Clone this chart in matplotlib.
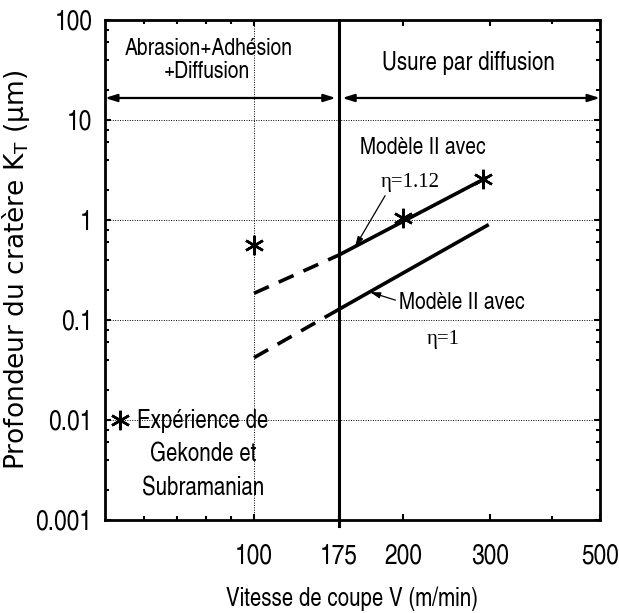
import numpy as np
import matplotlib
matplotlib.use('Agg')
import matplotlib.pyplot as plt
from matplotlib import font_manager
from matplotlib.ticker import FixedLocator, FixedFormatter, NullFormatter

# data
V_exp = [100, 200, 290]
KT_exp = [0.56, 1.05, 2.55]

V_trans = 148.5          # where the "175" boundary sits on the drawn axis
V_start = 100
V_end_112 = 295
V_end_1 = 298
KT_112 = [0.185, 0.447, 2.65]   # eta = 1.12 : at V_start, V_trans, V_end
KT_1 = [0.042, 0.128, 0.90]     # eta = 1

x_ticks = [100, V_trans, 200, 300, 500]
x_labels = ['100', '175', '200', '300', '500']
x_minor = [60, 70, 80, 90, 400]
y_ticks = [0.001, 0.01, 0.1, 1, 10, 100]
y_labels = ['0.001', '0.01', '0.1', '1', '10', '100']

# a narrow helvetica-like face if there is one
names = {f.name for f in font_manager.fontManager.ttflist}
narrow, k = 'Liberation Sans', 0.85
for fam, kk in [('Liberation Sans Narrow', 1.0), ('Nimbus Sans Narrow', 1.0),
                ('TeX Gyre Heros Cn', 1.0), ('Archivo Narrow', 0.95),
                ('Roboto Condensed', 0.95)]:
    if fam in names:
        narrow, k = fam, kk
        break

fig = plt.figure(figsize=(6.19, 6.13), dpi=100)
ax = fig.add_axes([105/619, 1 - 520/613, 495/619, 500/613])
ax.set_xscale('log')
ax.set_yscale('log')
ax.set_xlim(50, 500)
ax.set_ylim(0.001, 100)

# grid (dotted) at decades and at V=100
for y in y_ticks[1:-1]:
    ax.axhline(y, color='k', lw=0.7, ls=(0, (1, 1.5)), zorder=1)
ax.axvline(100, color='k', lw=0.7, ls=(0, (1, 1.5)), zorder=1)

# boundary between the two wear regimes
ax.axvline(V_trans, ymin=-0.012, ymax=1, color='k', lw=2.2, clip_on=False, zorder=3)

# model lines
ax.plot([V_start, V_trans], KT_112[:2], color='k', lw=2.6, ls=(0, (4.5, 3)))
ax.plot([V_trans, V_end_112], KT_112[1:], color='k', lw=2.6, solid_capstyle='butt')
ax.plot([V_start, V_trans], KT_1[:2], color='k', lw=2.6, ls=(0, (4.5, 3)))
ax.plot([V_trans, V_end_1], KT_1[1:], color='k', lw=2.6, solid_capstyle='butt')

# experiments
star = (6, 2, 0)
ax.plot(V_exp, KT_exp, ls='none', marker=star, ms=14, mew=1.8, color='k', zorder=4)

# legend-like text at lower left
ax.plot([0.030], [0.2], transform=ax.transAxes, ls='none', marker=star,
        ms=14, mew=1.8, color='k', zorder=4)
ax.text(0.198, 0.13, 'Expérience de\nGekonde et\nSubramanian', transform=ax.transAxes,
        ha='center', va='center', multialignment='center', linespacing=1.5,
        family=narrow, fontsize=18 * k, zorder=5)

# regime labels and double arrows
ax.text(0.21, 0.942, 'Abrasion+Adhésion', transform=ax.transAxes, ha='center',
        va='center', family=narrow, fontsize=17 * k)
ax.text(0.206, 0.896, '+Diffusion', transform=ax.transAxes, ha='center',
        va='center', family=narrow, fontsize=17 * k)
ax.text(0.735, 0.914, 'Usure par diffusion', transform=ax.transAxes, ha='center',
        va='center', family=narrow, fontsize=18 * k)
arr = dict(arrowstyle='<|-|>,head_length=0.7,head_width=0.22', color='k', lw=1.6,
           shrinkA=0, shrinkB=0)
ax.annotate('', xy=(50, 16.6), xytext=(V_trans * 0.985, 16.6), arrowprops=arr)
ax.annotate('', xy=(V_trans * 1.015, 16.6), xytext=(500, 16.6), arrowprops=arr)

# model annotations
ax.text(0.642, 0.744, 'Modèle II avec', transform=ax.transAxes, ha='center',
        va='center', family=narrow, fontsize=17 * k)
ax.text(0.616, 0.674, 'η=1.12', transform=ax.transAxes, ha='center',
        va='center', family='Liberation Serif', fontsize=15)
ax.annotate('', xy=(160, 0.54), xytext=(184, 1.75),
            arrowprops=dict(arrowstyle='-|>,head_length=0.6,head_width=0.18',
                            color='k', lw=0.9, shrinkA=0, shrinkB=0))
ax.text(0.721, 0.434, 'Modèle II avec', transform=ax.transAxes, ha='center',
        va='center', family=narrow, fontsize=17 * k)
ax.text(0.683, 0.36, 'η=1', transform=ax.transAxes, ha='center',
        va='center', family='Liberation Serif', fontsize=15)
ax.annotate('', xy=(171.6, 0.19), xytext=(193, 0.158),
            arrowprops=dict(arrowstyle='-|>,head_length=0.6,head_width=0.18',
                            color='k', lw=0.9, shrinkA=0, shrinkB=0))

# ticks
ax.xaxis.set_major_locator(FixedLocator(x_ticks))
ax.xaxis.set_major_formatter(FixedFormatter(x_labels))
ax.xaxis.set_minor_locator(FixedLocator(x_minor))
ax.xaxis.set_minor_formatter(NullFormatter())
ax.yaxis.set_major_locator(FixedLocator(y_ticks))
ax.yaxis.set_major_formatter(FixedFormatter(y_labels))
ax.yaxis.set_minor_locator(FixedLocator(
    [m * 10.0**e for e in range(-3, 2) for m in (2, 4, 6, 8)]))
ax.yaxis.set_minor_formatter(NullFormatter())
ax.tick_params(which='both', direction='in', top=True, right=True, width=1.5)
ax.tick_params(which='major', length=4)
ax.tick_params(which='minor', length=3)
ax.tick_params(axis='y', which='major', pad=9)
ax.tick_params(axis='x', which='major', pad=17)
for lab in ax.get_xticklabels() + ax.get_yticklabels():
    lab.set_family(narrow)
    lab.set_fontsize(20 * k)

for s in ax.spines.values():
    s.set_linewidth(2.0)

ax.set_xlabel('Vitesse de coupe V (m/min)', family=narrow, fontsize=18 * k, labelpad=12)
ax.set_ylabel('Profondeur du cratère K$_\\mathregular{T}$ (µm)', family='DejaVu Sans',
              fontsize=19)
ax.yaxis.set_label_coords(-0.147, 0.5)

fig.savefig('out.png', dpi=100)
